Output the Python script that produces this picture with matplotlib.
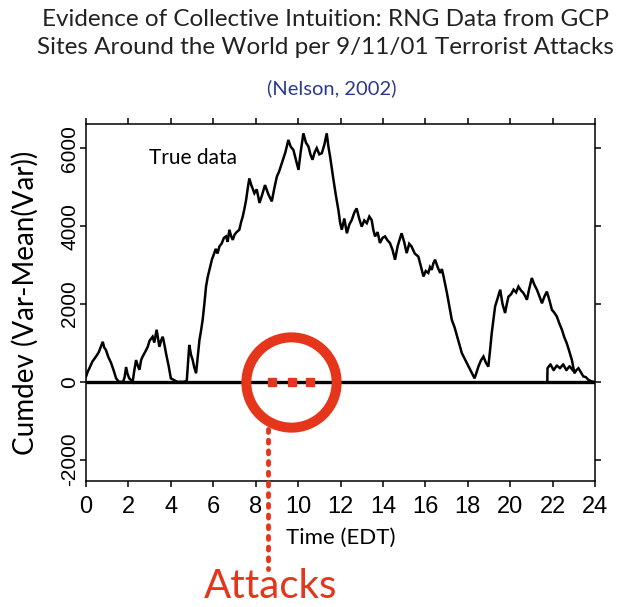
import matplotlib
matplotlib.use("Agg")
import matplotlib.pyplot as plt

plt.rcParams["axes.unicode_minus"] = False

# ---- data ----
hours = [0.0, 0.08, 0.16, 0.3, 0.47, 0.6, 0.79, 0.86, 0.94, 1.05, 1.18, 1.3, 1.42, 1.55, 1.75,
         1.82, 1.89, 1.96, 2.04, 2.2, 2.28, 2.36, 2.44, 2.52, 2.6, 2.67, 2.8,
         2.91, 3.0, 3.14, 3.22, 3.33, 3.4, 3.46, 3.55, 3.62, 3.7, 3.77, 3.9, 4.0, 4.3, 4.6,
         4.75, 4.87, 4.95, 5.03, 5.1, 5.19, 5.27, 5.35, 5.42, 5.50,
         5.58, 5.66, 5.74, 5.82, 5.94, 6.05, 6.12, 6.2, 6.29, 6.4, 6.5, 6.60, 6.68, 6.76, 6.84,
         6.92, 7.0, 7.1, 7.23, 7.31, 7.39, 7.47, 7.55, 7.62, 7.70, 7.8, 7.94, 8.05, 8.18, 8.3,
         8.44, 8.6, 8.76, 8.88, 9.0, 9.1, 9.23, 9.4, 9.54, 9.65, 9.78, 9.9, 10.02, 10.12, 10.25,
         10.37, 10.49, 10.58, 10.68, 10.78, 10.88, 11.0, 11.12, 11.24, 11.35, 11.43, 11.51,
         11.67, 11.78, 11.90, 11.98, 12.06, 12.18, 12.30, 12.42, 12.53, 12.65, 12.76, 12.88,
         13.0, 13.12, 13.24, 13.36, 13.47, 13.55, 13.63, 13.75, 13.86, 13.98, 14.1,
         14.2, 14.33, 14.45, 14.57, 14.7, 14.88, 15.0, 15.12, 15.24, 15.35, 15.5, 15.67,
         15.8, 15.91, 16.02, 16.14, 16.22, 16.3, 16.38, 16.46, 16.58, 16.7, 16.78, 16.86,
         17.02, 17.25, 17.38, 17.50, 17.62, 17.72, 17.85, 17.96, 18.08, 18.2, 18.32, 18.42,
         18.5, 18.62, 18.74, 18.85, 18.97, 19.05, 19.13, 19.21, 19.29, 19.41,
         19.53, 19.64, 19.76, 19.84, 19.92, 20.04, 20.16, 20.28, 20.39, 20.51, 20.63, 20.71,
         20.79, 20.9, 21.02, 21.14, 21.26, 21.38, 21.50, 21.62, 21.73, 21.85, 21.97,
         22.08, 22.2, 22.32, 22.44, 22.55, 22.67, 22.79, 22.91, 23.03, 23.12, 23.22, 23.33,
         23.45, 23.57, 23.69, 23.8, 23.93]
cumdev = [130, 260, 350, 520, 650, 760, 1030, 880, 820, 640, 490, 300, 90, 0, 0,
          120, 380, 200, 90, 0, 300, 560, 420, 310, 560, 650, 780,
          900, 1060, 1160, 1010, 1340, 1100, 900, 1080, 1160, 950, 740, 400, 90, 0, 0,
          20, 950, 700, 560, 380, 220, 650, 1080, 1300, 1590,
          2000, 2450, 2700, 2880, 3150, 3310, 3420, 3300, 3480, 3560, 3700, 3740, 3600, 3910, 3750,
          3650, 3780, 3850, 3910, 4100, 4250, 4450, 4680, 4950, 5230, 5050, 4850, 4950, 4600, 4800,
          5060, 4820, 4640, 4980, 5280, 5400, 5620, 5900, 6220, 6050, 5960, 5700, 5450, 5900, 6390,
          6150, 6050, 5850, 5710, 5900, 6010, 5850, 5880, 6100, 6390, 6050, 5790,
          5190, 4800, 4420, 4100, 3910, 4200, 3820, 4050, 4160, 4350, 4460, 4200,
          3990, 4150, 4080, 4250, 4160, 3900, 3740, 3850, 3570, 3700, 3740,
          3650, 3570, 3400, 3140, 3500, 3820, 3600, 3310, 3550, 3480, 3300, 3220,
          2950, 2710, 2850, 2800, 2950, 2880, 3050, 3140, 2950, 2800, 2900, 2710,
          2280, 1590, 1400, 1170, 950, 740, 600, 480, 350, 220, 90, 250,
          390, 550, 650, 500, 390, 800, 1250, 1600, 1940, 2150,
          2370, 2000, 1770, 2000, 2190, 2250, 2370, 2300, 2450, 2350, 2280, 2200,
          2110, 2400, 2670, 2500, 2370, 2200, 2020, 2200, 2320, 2100, 1850,
          1780, 1680, 1500, 1340, 1150, 990, 780, 560, 220, 300, 350, 250,
          140, 120, 50, 20, 0]

hours2 = [21.75, 21.76, 21.9, 22.05, 22.2, 22.35, 22.5, 22.65, 22.8, 22.95]
cumdev2 = [0, 350, 450, 300, 420, 350, 450, 300, 400, 300]

attack_hours = [8.77, 9.7, 10.55]
attack_line_hour = 8.6
circle_hour = 9.67

xticks = list(range(0, 25, 2))
yticks = [-2000, 0, 2000, 4000, 6000]

RED = "#e5361b"

fig = plt.figure(figsize=(6.28, 6.07), dpi=100)
ax = fig.add_axes([86/628, 1-481/607, (595-86)/628, (481-124)/607])

ax.plot(hours, cumdev, color="black", lw=1.8, solid_joinstyle="miter")
ax.plot(hours2, cumdev2, color="black", lw=1.8)
ax.axhline(0, color="black", lw=2.4, zorder=3)

ax.set_xlim(0, 24)
ax.set_ylim(-2550, 6630)
ax.set_xticks(xticks)
ax.set_yticks(yticks)
ax.tick_params(direction="out", length=4, width=1.1, top=True, right=True,
               labeltop=False, labelright=False)
ax.tick_params(axis="x", labelsize=17, pad=7)
ax.tick_params(axis="y", labelsize=15, pad=1)
for lab in ax.get_xticklabels() + ax.get_yticklabels():
    lab.set_family("Liberation Sans")
for lab in ax.get_yticklabels():
    lab.set_rotation(90)
    lab.set_va("center")
for s in ax.spines.values():
    s.set_linewidth(1.1)

ax.set_ylabel("Cumdev (Var-Mean(Var))", family="Lato", fontsize=20)
ax.yaxis.set_label_coords(-(86-25)/(595-86), 0.5)
ax.set_xlabel("Time (EDT)", family="Lato", fontsize=16)
ax.xaxis.set_label_coords(0.5, -(538-481)/(481-124))
ax.xaxis.label.set_va("center")
ax.yaxis.label.set_va("center")

ax.text(2.95, 5750, "True data", family="Lato", fontsize=15, ha="left", va="center")

# attack markers
ax.plot([circle_hour], [0], marker="o", markersize=65, mfc="none", mec=RED,
        mew=7.2, zorder=5, clip_on=False)
ax.plot(attack_hours, [0]*len(attack_hours), ls="none", marker="s", markersize=6,
        color=RED, zorder=6)
ax.plot([attack_line_hour, attack_line_hour], [-1220, -4800], ls=(0, (0.6, 1.6)),
        lw=3.5, color=RED, dash_capstyle="round", clip_on=False, zorder=6)

fig.text(271/628, 1-586/607, "Attacks", family="Lato", fontsize=29, color=RED,
         ha="center", va="center")

fig.text(0.519, 1-20/607, "Evidence of Collective Intuition: RNG Data from GCP",
         family="Lato", fontsize=17.5, ha="center", va="center", color="#222222")
fig.text(0.519, 1-48/607, "Sites Around the World per 9/11/01 Terrorist Attacks",
         family="Lato", fontsize=17.5, ha="center", va="center", color="#222222")
fig.text(332/628, 1-88/607, "(Nelson, 2002)", family="Lato", fontsize=14.5,
         ha="center", va="center", color="#2b3a8f")

fig.savefig("out.png", dpi=100)
